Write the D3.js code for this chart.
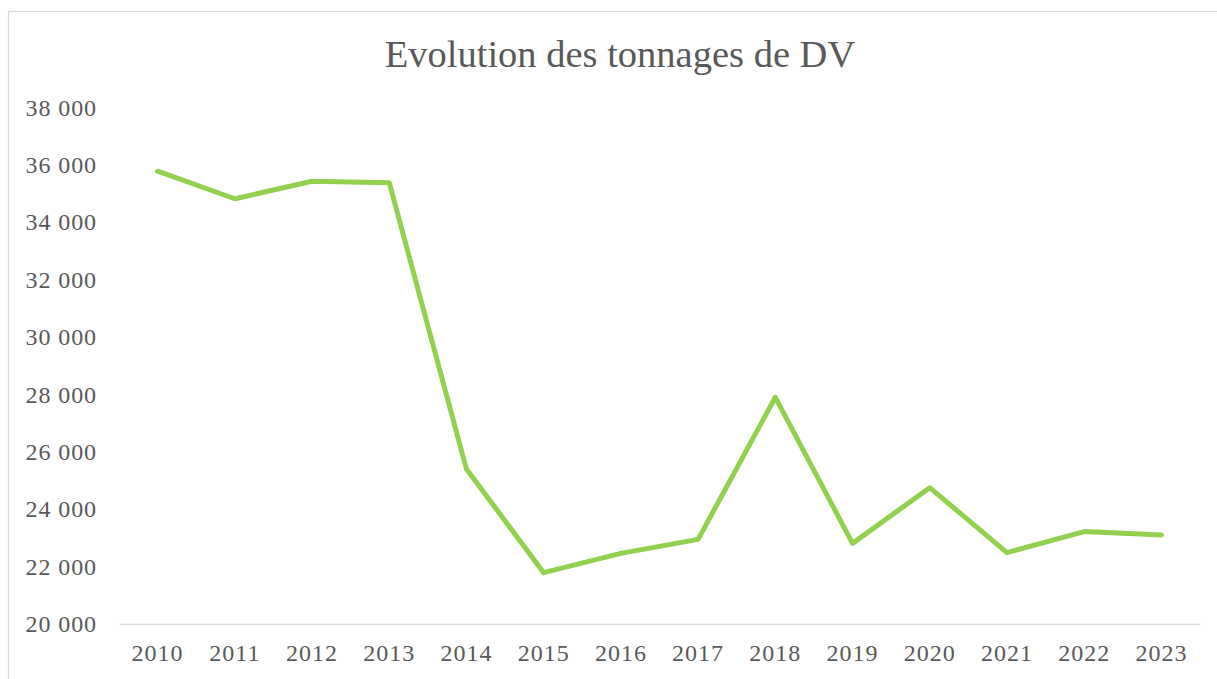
<!DOCTYPE html>
<html>
<head>
<meta charset="utf-8">
<script src="https://cdn.jsdelivr.net/npm/d3@7"></script>
<style>
  html, body { margin: 0; padding: 0; background: #fff; }
  svg { display: block; }
  text { font-family: "Liberation Serif", "DejaVu Serif", serif; fill: #595959; }
</style>
</head>
<body>
<svg id="chart" width="1217" height="679"></svg>
<script>
const title = "Evolution des tonnages de DV";
const years = ["2010","2011","2012","2013","2014","2015","2016","2017","2018","2019","2020","2021","2022","2023"];
const tonnages = [35780, 34820, 35430, 35380, 25400, 21790, 22460, 22950, 27900, 22810, 24750, 22490, 23220, 23100];
const yTicks = [20000, 22000, 24000, 26000, 28000, 30000, 32000, 34000, 36000, 38000];

const svg = d3.select("#chart");
const W = 1217, H = 679;
const margin = { left: 119, right: 17, top: 107.5, bottom: 55 };

// chart frame
svg.append("rect")
  .attr("x", 8.5).attr("y", 11.5)
  .attr("width", W + 10).attr("height", H + 10)
  .attr("fill", "#fff").attr("stroke", "#d9d9d9").attr("stroke-width", 1.3);

const x = d3.scaleBand().domain(years).range([margin.left, W - margin.right]);
const y = d3.scaleLinear().domain([20000, 38000]).range([H - margin.bottom, margin.top]);

const fmt = v => d3.format(",")(v).replace(/,/g, " ");

// y axis labels
const yAxis = d3.axisLeft(y).tickValues(yTicks).tickFormat(fmt).tickSize(0).tickPadding(22);
const gy = svg.append("g").attr("transform", `translate(${margin.left},0)`).call(yAxis);
gy.select(".domain").remove();
gy.selectAll("text").attr("font-size", 24).attr("fill", "#595959")
  .attr("letter-spacing", 0.9)
  .style("font-family", '"Liberation Serif", serif');

// x axis
const xAxis = d3.axisBottom(x).tickSize(0).tickPadding(20);
const gx = svg.append("g").attr("transform", `translate(0,${y(20000)})`).call(xAxis);
gx.select(".domain").attr("stroke", "#d9d9d9").attr("stroke-width", 1.5);
gx.selectAll("text").attr("font-size", 24).attr("fill", "#595959")
  .attr("letter-spacing", 1)
  .style("font-family", '"Liberation Serif", serif');

// line
const line = d3.line()
  .x((d, i) => x(years[i]) + x.bandwidth() / 2)
  .y(d => y(d));
svg.append("path")
  .datum(tonnages)
  .attr("d", line)
  .attr("fill", "none")
  .attr("stroke", "#92d050")
  .attr("stroke-width", 5)
  .attr("stroke-linejoin", "round")
  .attr("stroke-linecap", "round");

// title
svg.append("text")
  .attr("x", 620).attr("y", 67)
  .attr("text-anchor", "middle")
  .attr("font-size", 38.5)
  .text(title);
</script>
</body>
</html>
